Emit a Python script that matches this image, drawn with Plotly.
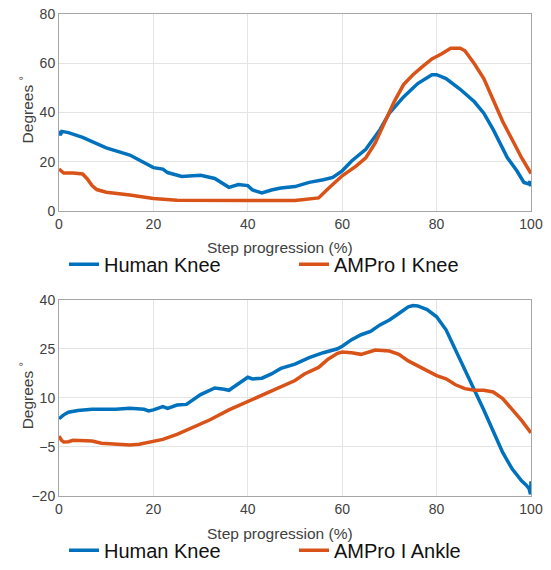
import plotly.graph_objects as go

# ---- Data ----
step_top_human = [0, 0.3, 0.6, 2, 5, 10, 15, 20, 22, 23, 26, 30, 33, 36, 38, 40, 41, 43, 45, 47, 50, 53, 56, 58, 60,
                  62, 65, 68, 70, 73, 76, 79, 80, 82, 85, 88, 90, 92, 95, 97, 98.5, 99.5, 99.8, 100]
human_knee_top = [32.5, 30.8, 32.3, 31.8, 29.9, 25.6, 22.7, 17.6, 17.0, 15.6, 14.0, 14.5, 13.2, 9.6, 10.7, 10.3, 8.5,
                  7.3, 8.5, 9.3, 9.9, 11.6, 12.7, 13.6, 16.3, 20.3, 25.0, 33.0, 39.7, 46.3, 51.7, 55.3, 55.3, 53.7,
                  49.4, 44.3, 39.7, 33.0, 21.6, 16.3, 11.6, 11.0, 12.0, 10.0]

step_top_ampro = [0, 1, 3, 5, 6, 7, 8, 10, 15, 17, 20, 25, 30, 40, 50, 53, 55, 57, 60, 63, 65, 67, 69, 71, 73, 75, 77,
                  79, 81, 83, 85, 86, 88, 90, 92, 94, 96, 98, 100]
ampro_knee_top = [17.0, 15.4, 15.4, 15.0, 13.0, 10.3, 8.7, 7.6, 6.5, 6.0, 5.1, 4.4, 4.3, 4.3, 4.3, 4.7, 5.3, 9.0, 14.3,
                  18.3, 21.6, 27.6, 35.6, 44.3, 51.3, 55.3, 58.6, 61.7, 63.7, 66.0, 66.0, 65.0, 59.7, 53.7, 45.0,
                  36.3, 29.0, 21.6, 15.2]

step_bot_human = [0, 1, 2, 4, 7, 10, 12, 15, 18, 19, 20, 22, 23, 25, 27, 30, 33, 35, 36, 38, 40, 41, 43, 45, 47, 50,
                  53, 56, 59, 60, 62, 64, 66, 68, 70, 72, 74, 75, 76, 78, 80, 82, 84, 86, 88, 90, 92, 94, 96, 98, 99,
                  99.6, 99.9, 100]
human_knee_bot = [3.6, 4.8, 5.6, 6.1, 6.5, 6.5, 6.5, 6.8, 6.5, 6.0, 6.3, 7.3, 6.8, 7.8, 8.0, 11.0, 13.0, 12.6, 12.3,
                  14.3, 16.3, 15.8, 16.0, 17.3, 19.0, 20.3, 22.3, 23.8, 25.0, 25.8, 27.8, 29.3, 30.3, 32.3, 33.8,
                  35.8, 37.8, 38.2, 38.1, 37.0, 34.8, 30.8, 24.8, 18.8, 12.3, 6.3, -0.2, -6.7, -11.7, -15.4, -16.7,
                  -17.8, -19.5, -15.5]

step_bot_ampro = [0, 0.5, 1, 2, 3, 5, 7, 9, 12, 15, 17, 19, 22, 25, 28, 32, 36, 40, 44, 48, 50, 52, 55, 57, 59, 60, 62,
                  64, 65, 67, 70, 72, 74, 76, 78, 80, 82, 84, 86, 88, 90, 92, 94, 96, 98, 100]
ampro_ankle_bot = [-1.7, -2.9, -3.5, -3.4, -3.0, -3.0, -3.2, -3.9, -4.2, -4.4, -4.2, -3.5, -2.7, -1.2, 0.8, 3.3, 6.3,
                   8.8, 11.3, 13.8, 15.3, 17.3, 19.3, 21.8, 23.6, 24.0, 23.8, 23.3, 23.8, 24.6, 24.3, 23.3, 21.3,
                   19.8, 18.0, 16.8, 15.8, 14.0, 12.8, 12.3, 12.3, 11.8, 9.8, 6.6, 3.1, -0.7]

x_ticks = [0, 20, 40, 60, 80, 100]
y_ticks_top = [0, 20, 40, 60, 80]
y_ticks_bot = [-20, -5, 10, 25, 40]

BLUE = "#0072BD"
ORANGE = "#D95319"
W, H = 551, 570
FONT = "Liberation Sans, Arial, sans-serif"
GRAY = "#404040"
LW = 3.5


def fx(xpx):  # window px -> paper x
    return xpx / W


def fy(ypx):  # window px -> paper y
    return 1 - ypx / H


fig = go.Figure()
fig.add_trace(go.Scatter(x=step_top_human, y=human_knee_top, mode="lines", name="Human Knee",
                         line=dict(color=BLUE, width=LW), xaxis="x", yaxis="y", legend="legend"))
fig.add_trace(go.Scatter(x=step_top_ampro, y=ampro_knee_top, mode="lines", name="AMPro I Knee",
                         line=dict(color=ORANGE, width=LW), xaxis="x", yaxis="y", legend="legend2"))
fig.add_trace(go.Scatter(x=step_bot_human, y=human_knee_bot, mode="lines", name="Human Knee",
                         line=dict(color=BLUE, width=LW), xaxis="x2", yaxis="y2", legend="legend3"))
fig.add_trace(go.Scatter(x=step_bot_ampro, y=ampro_ankle_bot, mode="lines", name="AMPro I Ankle",
                         line=dict(color=ORANGE, width=LW), xaxis="x2", yaxis="y2", legend="legend4"))

xdom = [fx(59), fx(531)]
ax_common = dict(showgrid=True, gridcolor="#e4e4e4", gridwidth=1, showline=True, mirror=True,
                 linecolor="#a6a6a6", linewidth=1, zeroline=False, ticks="", automargin=False,
                 ticklabeloverflow="allow",
                 tickfont=dict(family=FONT, size=14, color=GRAY))

fig.update_layout(
    width=W, height=H, margin=dict(l=0, r=0, t=0, b=0),
    paper_bgcolor="white", plot_bgcolor="white",
    xaxis=dict(domain=xdom, anchor="y", range=[0, 100], tickvals=x_ticks, **ax_common),
    yaxis=dict(domain=[fy(214), fy(14)], anchor="x", range=[0, 80], tickvals=y_ticks_top, **ax_common),
    xaxis2=dict(domain=xdom, anchor="y2", range=[0, 100], tickvals=x_ticks, **ax_common),
    yaxis2=dict(domain=[fy(503), fy(304)], anchor="x2", range=[-20, 40], tickvals=y_ticks_bot, **ax_common),
    showlegend=True,
)

leg_font = dict(family=FONT, size=20, color="#111111")


def leg(xpx, ypx):
    return dict(x=fx(xpx), y=fy(ypx), xanchor="left", yanchor="middle", orientation="h",
                font=leg_font, bgcolor="rgba(0,0,0,0)", borderwidth=0, tracegroupgap=0)


fig.update_layout(legend=leg(64, 268), legend2=leg(294, 268), legend3=leg(64, 558), legend4=leg(294, 558))

ann = []
tfont = dict(family=FONT, size=15.5, color=GRAY)
for ypx in (251, 541):
    ann.append(dict(text="Step progression (%)", x=fx(280), y=fy(ypx), xref="paper", yref="paper",
                    showarrow=False, xanchor="center", yanchor="middle", font=tfont))
for ypx in (112, 402):
    ann.append(dict(text="Degrees <sup>°</sup>", x=fx(27), y=fy(ypx), xref="paper", yref="paper",
                    showarrow=False, xanchor="center", yanchor="middle", textangle=-90, font=tfont))
fig.update_layout(annotations=ann)

fig.write_html("out.html", config={"displayModeBar": False},
               post_script="document.body.style.margin='0px';")
